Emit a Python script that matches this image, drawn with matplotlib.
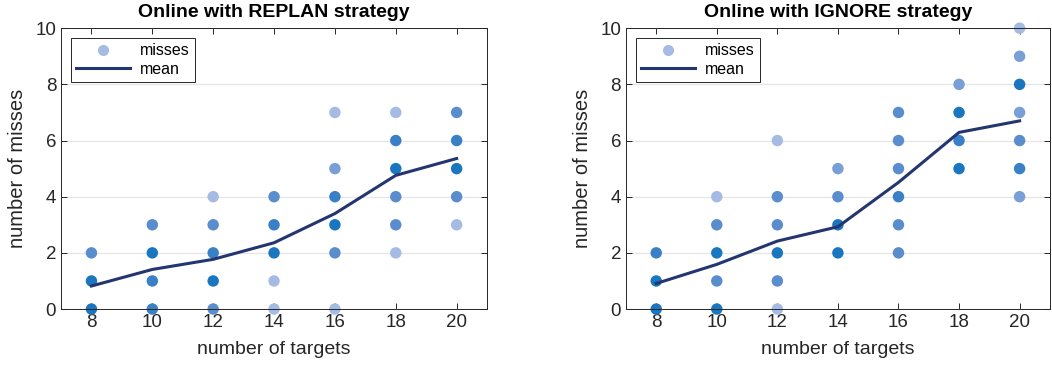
import matplotlib
matplotlib.use("Agg")
import matplotlib.pyplot as plt
from matplotlib.lines import Line2D

plt.rcParams['font.family'] = ['Liberation Sans', 'DejaVu Sans']

targets = [8, 10, 12, 14, 16, 18, 20]

# REPLAN: (number of misses, how many runs) per target count
replan_misses = [
    [(0, 5), (1, 5), (2, 3)],
    [(0, 4), (1, 4), (2, 5), (3, 3)],
    [(0, 3), (1, 5), (2, 4), (3, 3), (4, 1)],
    [(0, 1), (1, 1), (2, 5), (3, 4), (4, 3)],
    [(0, 1), (2, 3), (3, 5), (4, 4), (5, 2), (7, 1)],
    [(2, 1), (3, 3), (4, 3), (5, 5), (6, 4), (7, 1)],
    [(3, 1), (4, 3), (5, 5), (6, 4), (7, 3)],
]
replan_mean = [0.82, 1.41, 1.77, 2.36, 3.40, 4.76, 5.36]

# IGNORE
ignore_misses = [
    [(0, 5), (1, 5), (2, 4)],
    [(0, 5), (1, 3), (2, 5), (3, 3), (4, 1)],
    [(0, 1), (1, 3), (2, 5), (3, 3), (4, 3), (6, 1)],
    [(2, 5), (3, 5), (4, 3), (5, 2)],
    [(2, 3), (3, 3), (4, 4), (5, 3), (6, 3), (7, 3)],
    [(5, 5), (6, 4), (7, 5), (8, 2)],
    [(4, 2), (5, 4), (6, 3), (7, 2), (8, 5), (9, 2), (10, 1)],
]
ignore_mean = [0.91, 1.59, 2.42, 2.93, 4.51, 6.29, 6.70]

# darker dot where more runs overlap
shade = {1: '#a6bbe3', 2: '#7a9fd6', 3: '#5a8dcd', 4: '#3a80c6', 5: '#1a76bf'}
line_col = '#233670'
axis_col = '#262626'


def draw_panel(ax, misses, mean, title):
    for t, pts in zip(targets, misses):
        for m, n in pts:
            ax.scatter([t], [m], s=68, color=shade[min(n, 5)], edgecolors='none',
                       zorder=3, clip_on=False)
    ax.plot(targets, mean, color=line_col, lw=2.2, zorder=4)

    ax.set_xlim(7, 21)
    ax.set_ylim(0, 10)
    ax.set_xticks(targets)
    ax.set_yticks(range(0, 11, 2))
    ax.yaxis.grid(True, color='#e6e6e6', lw=0.9, zorder=0)
    ax.set_axisbelow(True)
    ax.tick_params(direction='in', top=True, right=True, labelsize=13.5,
                   colors=axis_col, length=4, width=0.7)
    for sp in ax.spines.values():
        sp.set_color(axis_col)
        sp.set_linewidth(0.7)
        sp.set_zorder(5)
    ax.set_xlabel('number of targets', fontsize=14, color=axis_col, labelpad=7)
    ax.set_ylabel('number of misses', fontsize=14.5, color=axis_col, labelpad=6)
    ax.set_title(title, fontsize=14, fontweight='bold', pad=8)

    handles = [
        Line2D([], [], ls='none', marker='o', ms=8, color=shade[1], mec='none'),
        Line2D([], [], color=line_col, lw=2.2),
    ]
    leg = ax.legend(handles, ['misses', 'mean'], loc='upper left', fontsize=11.5,
                    fancybox=False, framealpha=1, edgecolor=axis_col,
                    borderpad=0.35, handlelength=3.4, labelspacing=0.2,
                    borderaxespad=0.6, handletextpad=0.6)
    leg.get_frame().set_linewidth(0.7)
    leg.set_zorder(6)


fig = plt.figure(figsize=(10.52, 3.71), dpi=100)
ax1 = fig.add_axes([0.058, 0.167, 0.405, 0.757])
ax2 = fig.add_axes([0.595, 0.167, 0.403, 0.757])

draw_panel(ax1, replan_misses, replan_mean, 'Online with REPLAN strategy')
draw_panel(ax2, ignore_misses, ignore_mean, 'Online with IGNORE strategy')

fig.savefig('out.png', dpi=100)
